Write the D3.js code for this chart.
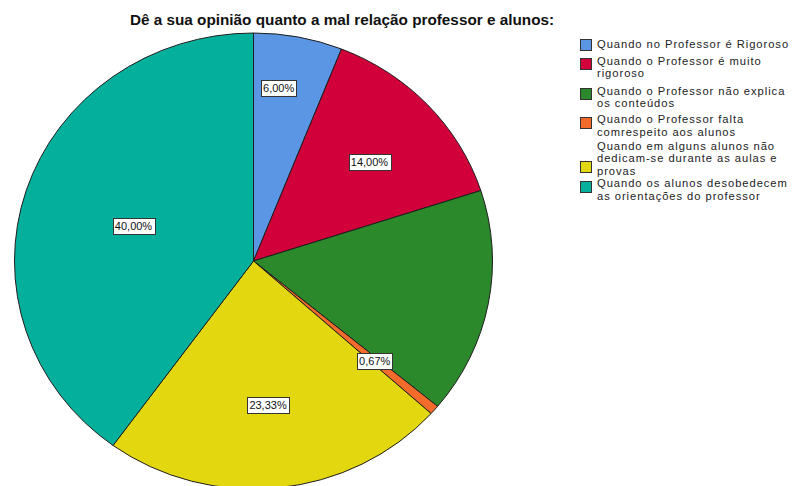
<!DOCTYPE html>
<html>
<head>
<meta charset="utf-8">
<script src="https://cdn.jsdelivr.net/npm/d3@7"></script>
<style>
  html, body { margin: 0; padding: 0; background: #fff; }
  svg { display: block; font-family: "Liberation Sans", Arial, sans-serif; }
</style>
</head>
<body>
<svg id="chart" width="795" height="486"></svg>
<script>
// ---- data ----
const title = "Dê a sua opinião quanto a mal relação professor e alunos:";
const categories = [
  "Quando no Professor é Rigoroso",
  "Quando o Professor é muito rigoroso",
  "Quando o Professor não explica os conteúdos",
  "Quando o  Professor falta comrespeito aos alunos",
  "Quando em alguns alunos não dedicam-se durante as aulas e provas",
  "Quando os alunos desobedecem as orientações do professor"
];
const legendLines = [
  ["Quando no Professor é Rigoroso"],
  ["Quando o Professor é muito", "rigoroso"],
  ["Quando o Professor não explica", "os conteúdos"],
  ["Quando o  Professor falta", "comrespeito aos alunos"],
  ["Quando em alguns alunos não", "dedicam-se durante as aulas e", "provas"],
  ["Quando os alunos desobedecem", "as orientações do professor"]
];
const counts = [9, 21, 24, 1, 35, 60];
const showLabel = [true, true, false, true, true, true];
const colors = ["#5a96e3", "#d2003a", "#2b882b", "#f26b2a", "#e3d70f", "#04b09c"];
// label placement (fraction of radius, angle shift in degrees)
const labelRadius = [0.766, 0.651, 0.65, 0.67, 0.635, 0.525];
const labelShift = [-2.9, 1.4, 0, 0, 0.5, -1];

// ---- layout ----
const svg = d3.select("#chart");
const cx = 253.5, cy = 261, rx = 239, ry = 228;
const total = d3.sum(counts);
const fmt = v => (v * 100).toFixed(2).replace(".", ",") + "%";

svg.append("text")
  .attr("x", 342).attr("y", 25)
  .attr("text-anchor", "middle")
  .attr("font-size", 15.3).attr("font-weight", "bold")
  .attr("fill", "#111")
  .text(title);

const pie = d3.pie().sort(null).value(d => d);
const arcs = pie(counts);
const arc = d3.arc().innerRadius(0).outerRadius(rx);

const g = svg.append("g")
  .attr("transform", `translate(${cx},${cy}) scale(1,${ry / rx})`);
g.selectAll("path").data(arcs).enter().append("path")
  .attr("d", arc)
  .attr("fill", (d, i) => colors[i])
  .attr("stroke", "#1e1e1e")
  .attr("stroke-width", 1)
  .attr("vector-effect", "non-scaling-stroke");

// labels
const lg = svg.append("g");
arcs.forEach((d, i) => {
  if (!showLabel[i]) return;
  const a = (d.startAngle + d.endAngle) / 2 + labelShift[i] * Math.PI / 180;
  const x = cx + rx * labelRadius[i] * Math.sin(a);
  const y = cy - ry * labelRadius[i] * Math.cos(a);
  const t = lg.append("text")
    .attr("x", x).attr("y", y + 4)
    .attr("text-anchor", "middle")
    .attr("font-size", 11).attr("fill", "#111")
    .text(fmt(d.value / total));
  const bb = t.node().getBBox();
  lg.insert("rect", () => t.node())
    .attr("x", Math.round(bb.x - 2) + 0.5).attr("y", Math.round(y - 8) + 0.5)
    .attr("width", Math.round(bb.width + 4)).attr("height", 16)
    .attr("fill", "#fff").attr("stroke", "#333").attr("stroke-width", 1);
});

// legend
const legX = 580, lineH = 12.5;
const legTops = [44, 60.5, 90.5, 119, 145.5, 183];
const leg = svg.append("g");
legendLines.forEach((lines, i) => {
  const y0 = legTops[i];
  lines.forEach((ln, j) => {
    leg.append("text")
      .attr("x", legX + 17).attr("y", y0 + j * lineH + 4.2)
      .attr("font-size", 11.2).attr("letter-spacing", 0.95).attr("fill", "#222")
      .text(ln);
  });
  const swOff = lines.length === 1 ? 0 : (lines.length === 3 ? 20.5 : 3);
  leg.append("rect")
    .attr("x", legX + 0.5).attr("y", Math.round(y0 + swOff - 5.5) + 0.5)
    .attr("width", 11).attr("height", 11)
    .attr("fill", colors[i]).attr("stroke", "#333").attr("stroke-width", 1);
});
</script>
</body>
</html>
